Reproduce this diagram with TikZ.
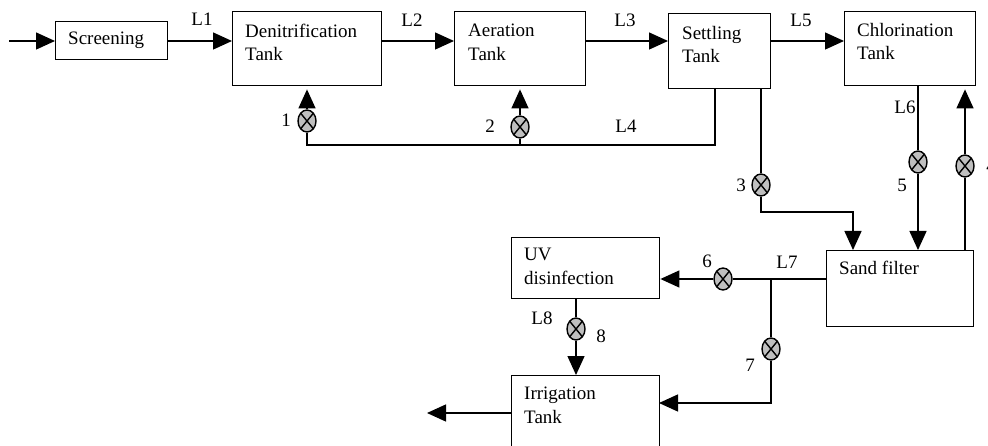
\documentclass[tikz,border=0pt]{standalone}
\usepackage{fontspec}
\setmainfont{Liberation Serif}
\usetikzlibrary{arrows.meta,shapes.geometric,calc}
\begin{document}
\begin{tikzpicture}[x=1pt,y=-1pt,
  font=\fontsize{19}{23.5}\selectfont,
  box/.style={draw, line width=1.4pt, rectangle, inner sep=0pt, anchor=north west},
  txt/.style={anchor=base west, inner sep=0pt, align=left},
  lbl/.style={inner sep=0pt},
  pipe/.style={line width=1.4pt},
  flow/.style={line width=1.4pt, -{Triangle[length=19pt,width=17pt]}},
  valve/.style={draw, ellipse, fill=black!25, minimum width=18pt, minimum height=22pt,
    inner sep=0pt, line width=1.4pt,
    path picture={\draw[line width=1.4pt]
      (path picture bounding box.north west) -- (path picture bounding box.south east)
      (path picture bounding box.north east) -- (path picture bounding box.south west);}}
]
\useasboundingbox (0,0) rectangle (988,446);

% boxes
\node[box, minimum width=112pt, minimum height=38pt] (scr) at (55,21) {};
\node[box, minimum width=149pt, minimum height=74pt] (den) at (232,11) {};
\node[box, minimum width=131pt, minimum height=74pt] (aer) at (454,11) {};
\node[box, minimum width=102pt, minimum height=75pt] (set) at (668,13) {};
\node[box, minimum width=131pt, minimum height=74pt] (chl) at (844,11) {};
\node[box, minimum width=147pt, minimum height=76pt] (snd) at (826,250) {};
\node[box, minimum width=148pt, minimum height=61pt] (uv) at (511,237) {};
\node[box, minimum width=148pt, minimum height=73pt] (irr) at (511,375) {};

% box texts (base = baseline of the last line)
\node[txt] (tscr) at (68,45) {Screening};
\node[txt] (tden) at (245,61) {Denitrification\\Tank};
\node[txt] (taer) at (468,60.5) {Aeration\\Tank};
\node[txt] (tset) at (682,63) {Settling\\Tank};
\node[txt] (tchl) at (857,60) {Chlorination\\Tank};
\node[txt] (tsnd) at (839,275) {Sand filter};
\node[txt] (tuv) at (524,284.5) {UV\\disinfection};
\node[txt] (tirr) at (524,423) {Irrigation\\Tank};

% valves
\node[valve] (v1) at (307,121) {};
\node[valve] (v2) at (520,127) {};
\node[valve] (v3) at (761,185) {};
\node[valve] (v4) at (965,166) {};
\node[valve] (v5) at (918,162) {};
\node[valve] (v6) at (723,279) {};
\node[valve] (v7) at (771,349) {};
\node[valve] (v8) at (576,329) {};

% coordinates
\coordinate (in) at (9,41);
\coordinate (row) at (0,41);
\coordinate (ret) at (307,145);
\coordinate (st3) at (853,212);
\coordinate (j7) at (771,279);
\coordinate (irrin) at (659,403);
\coordinate (out) at (427,413);

% main line
\draw[flow] (in) -- (row -| scr.west);
\draw[flow] (row -| scr.east) -- (row -| den.west);
\draw[flow] (row -| den.east) -- (row -| aer.west);
\draw[flow] (row -| aer.east) -- (row -| set.west);
\draw[flow] (row -| set.east) -- (row -| chl.west);

% return sludge
\draw[pipe] ([xshift=47pt]set.south west) |- (ret) -- (v1);
\draw[flow, shorten >=3pt] (v1) -- (v1 |- den.south);
\draw[pipe] (v2 |- ret) -- (v2);
\draw[flow, shorten >=3pt] (v2) -- (v2 |- aer.south);

% settling to sand filter
\draw[pipe] ([xshift=93pt]set.south west) -- (v3);
\draw[flow] (v3) |- (st3) -- (st3 |- snd.north);

% chlorination <-> sand filter
\draw[pipe] ([xshift=74pt]chl.south west) -- (v5);
\draw[flow] (v5) -- (v5 |- snd.north);
\draw[pipe] (v4 |- snd.north) -- (v4);
\draw[flow, shorten >=3pt] (v4) -- (v4 |- chl.south);

% sand filter to UV / irrigation
\draw[pipe] (j7 -| snd.west) -- (v6);
\draw[flow] (v6) -- (v6 -| uv.east);
\draw[pipe] (j7) -- (v7);
\draw[flow] (v7) |- (irrin);
\draw[pipe] (v8 |- uv.south) -- (v8);
\draw[flow] (v8) -- (v8 |- irr.north);
\draw[flow] (out -| irr.west) -- (out);

% labels
\node[lbl] (lL1) at (202,19) {L1};
\node[lbl] (lL2) at (412,20) {L2};
\node[lbl] (lL3) at (625,20) {L3};
\node[lbl] (lL4) at (626,126) {L4};
\node[lbl] (lL5) at (801,20) {L5};
\node[lbl] (lL6) at (905,107) {L6};
\node[lbl] (lL7) at (787,262) {L7};
\node[lbl] (lL8) at (542,318) {L8};
\node[lbl] (l1) at (286,120) {1};
\node[lbl] (l2) at (490,126) {2};
\node[lbl] (l3) at (741,185) {3};
\node[lbl] (l4) at (991,166) {4};
\node[lbl] (l5) at (902,185) {5};
\node[lbl] (l6) at (707,261) {6};
\node[lbl] (l7) at (750,365) {7};
\node[lbl] (l8) at (601,336) {8};
\end{tikzpicture}
\end{document}
